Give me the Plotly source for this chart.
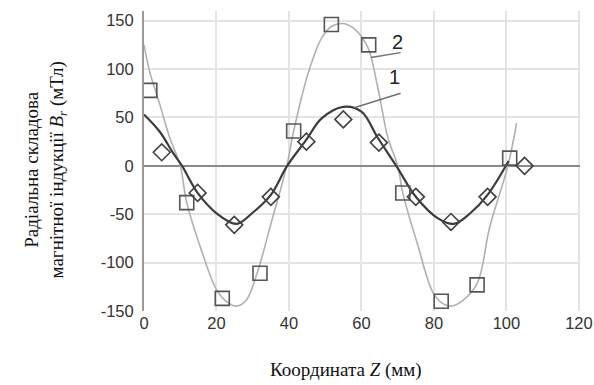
import plotly.graph_objects as go

# Measured points (series 1: diamonds, series 2: squares)
x1_pts = [4.9, 14.8, 24.9, 35.0, 44.8, 55.0, 64.8, 75.0, 84.7, 94.8, 105.0]
y1_pts = [14, -28, -61, -32, 25, 48, 24, -32, -58, -32, 0]
x2_pts = [1.6, 11.8, 21.6, 32.0, 41.3, 51.7, 62.0, 71.4, 82.0, 91.9, 100.9]
y2_pts = [78, -38, -137, -111, 36, 146, 125, -28, -140, -123, 8]

# Fitted curves
x1_curve = [0, 4.4, 7.9, 10.5, 14.8, 20.0, 25.5, 29.8, 35.0, 39.5, 44.8, 49.0, 55.0,
            60.0, 64.5, 69.6, 75.0, 81.0, 85.5, 90.0, 94.8, 100.6]
y1_curve = [53, 35, 14, 0, -28, -49, -60, -49, -30, 0, 27, 49, 61,
            56, 29, 0, -32, -54, -60, -49, -30, 5]
x2_curve = [0, 1.6, 4.4, 7.1, 10.0, 11.8, 16.1, 20.0, 22.7, 25.6, 28.2, 31.2, 35.3,
            39.4, 41.3, 45.4, 49.0, 51.7, 55.0, 58.5, 61.8, 64.5, 67.3, 70.0, 71.4,
            75.4, 80.4, 84.5, 88.0, 92.0, 95.4, 100.4, 102.8]
y2_curve = [125, 97, 63, 29, 0, -38, -90, -128, -140, -145, -139, -111, -56,
            0, 36, 97, 132, 144, 147, 140, 122, 81, 29, 0, -28,
            -80, -135, -145, -139, -121, -63, 0, 44]

# Curve labels
label_text = ["1", "2"]
label_x = [69.2, 69.9]
label_y = [92, 128]
leader_x0 = [58.0, 62.6]
leader_y0 = [60, 112]
leader_x1 = [70.8, 70.8]
leader_y1 = [75, 117]

x_ticks = [0, 20, 40, 60, 80, 100, 120]
x_tick_labels = ["0", "20", "40", "60", "80", "100", "120"]
y_ticks = [-150, -100, -50, 0, 50, 100, 150]
y_tick_labels = ["-150", "-100", "-50", "0", "50", "100", "150"]

fig = go.Figure()
fig.add_trace(go.Scatter(x=x2_curve, y=y2_curve, mode="lines",
                         line=dict(color="#b0b0b0", width=1.6, shape="spline", smoothing=1.0),
                         hoverinfo="skip", showlegend=False))
fig.add_trace(go.Scatter(x=x1_curve, y=y1_curve, mode="lines",
                         line=dict(color="#3c3c3c", width=2.2, shape="spline", smoothing=1.0),
                         hoverinfo="skip", showlegend=False))
fig.add_trace(go.Scatter(x=x2_pts, y=y2_pts, mode="markers",
                         marker=dict(symbol="square-open", size=14, color="#555555",
                                     line=dict(width=1.6, color="#555555")),
                         showlegend=False))
fig.add_trace(go.Scatter(x=x1_pts, y=y1_pts, mode="markers",
                         marker=dict(symbol="diamond-open", size=13, color="#404040",
                                     line=dict(width=1.6, color="#404040")),
                         showlegend=False))

for i in range(len(label_text)):
    fig.add_shape(type="line", xref="x", yref="y",
                  x0=leader_x0[i], y0=leader_y0[i], x1=leader_x1[i], y1=leader_y1[i],
                  line=dict(color="#707070", width=1.4))
    fig.add_annotation(x=label_x[i], y=label_y[i], xref="x", yref="y", text=label_text[i],
                       showarrow=False, font=dict(family="Liberation Sans, Arial", size=20, color="#222222"))

fig.add_annotation(xref="paper", yref="paper", x=-0.226, y=0.47, xanchor="center", yanchor="middle",
                   text="Радіальна складова<br>магнітної індукції <i>B<sub>r</sub></i> (мТл)",
                   textangle=-90, showarrow=False,
                   font=dict(family="Liberation Serif, Times New Roman, serif", size=19, color="#111111"))
fig.add_annotation(xref="paper", yref="paper", x=0.463, y=-0.197, xanchor="center", yanchor="middle",
                   text="Координата <i>Z</i> (мм)", showarrow=False,
                   font=dict(family="Liberation Serif, Times New Roman, serif", size=19, color="#111111"))

tick_font = dict(family="Liberation Sans Narrow, Arial Narrow, Liberation Sans, Arial", size=16.5, color="#333333")
fig.update_xaxes(range=[0, 120.3], tickvals=x_ticks, ticktext=x_tick_labels,
                 showgrid=True, gridcolor="#e4e4e4", gridwidth=2,
                 zeroline=False, showline=False, tickfont=tick_font, ticks="",
                 ticklabeloverflow="allow", automargin=False, fixedrange=True)
fig.update_yaxes(range=[-150, 160], tickvals=y_ticks, ticktext=y_tick_labels,
                 showgrid=True, gridcolor="#e4e4e4", gridwidth=2,
                 zeroline=True, zerolinecolor="#8a8a8a", zerolinewidth=1.6,
                 showline=True, linecolor="#9a9a9a", linewidth=2,
                 tickfont=tick_font, ticks="", ticklabelstandoff=5,
                 automargin=False, fixedrange=True)

fig.update_layout(width=594, height=385, margin=dict(l=144, r=14, t=11, b=74, autoexpand=False),
                  plot_bgcolor="white", paper_bgcolor="white")
fig.write_html("out.html")
